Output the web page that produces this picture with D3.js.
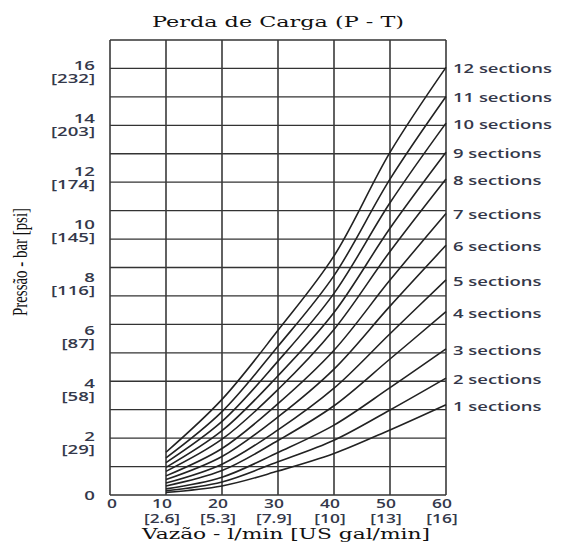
<!DOCTYPE html>
<html>
<head>
<meta charset="utf-8">
<script src="https://cdn.jsdelivr.net/npm/d3@7"></script>
<style>
  body { margin: 0; background: #fff; }
</style>
</head>
<body>
<svg id="chart" width="561" height="543"></svg>
<script>
// flow points (l/min) where each curve was read
var flows = [10, 20, 30, 40, 50, 60];

var xTicks = [0, 10, 20, 30, 40, 50, 60];
var xTickGal = ["", "[2.6]", "[5.3]", "[7.9]", "[10]", "[13]", "[16]"];
var yTicks = [0, 2, 4, 6, 8, 10, 12, 14, 16];
var yTickPsi = ["", "[29]", "[58]", "[87]", "[116]", "[145]", "[174]", "[203]", "[232]"];

// pressure drop (bar) per number of sections
var sec1  = [0.10, 0.34, 0.90, 1.56, 2.45, 3.40];
var sec2  = [0.16, 0.49, 1.25, 2.06, 3.20, 4.40];
var sec3  = [0.23, 0.67, 1.60, 2.63, 4.04, 5.50];
var sec4  = [0.34, 0.92, 2.05, 3.36, 5.12, 6.90];
var sec5  = [0.45, 1.16, 2.45, 4.02, 6.07, 8.10];
var sec6  = [0.58, 1.45, 2.94, 4.74, 7.11, 9.40];
var sec7  = [0.72, 1.75, 3.44, 5.45, 8.09, 10.60];
var sec8  = [0.89, 2.10, 3.97, 6.23, 9.17, 11.90];
var sec9  = [1.04, 2.42, 4.49, 6.87, 10.04, 12.90];
var sec10 = [1.22, 2.77, 5.04, 7.59, 11.00, 14.00];
var sec11 = [1.40, 3.14, 5.60, 8.26, 11.89, 15.00];
var sec12 = [1.61, 3.60, 6.20, 9.00, 12.90, 16.10];

var sectionNames = ["1 sections", "2 sections", "3 sections", "4 sections", "5 sections", "6 sections",
  "7 sections", "8 sections", "9 sections", "10 sections", "11 sections", "12 sections"];

var series = [sec1, sec2, sec3, sec4, sec5, sec6, sec7, sec8, sec9, sec10, sec11, sec12]
  .map((vals, i) => ({ name: sectionNames[i], points: vals.map((v, j) => [flows[j], v]) }));

var plotL = 110, plotR = 446, plotT = 40, plotB = 495;
var ink = "#34384a";

var svg = d3.select("#chart");

var x = d3.scaleLinear().domain([0, 60]).range([plotL, plotR]);
var y = d3.scaleLinear().domain([0, 16]).range([plotB, 70]);
// the printed grid has 16 even rows between the frame edges
var gridY = d3.scaleLinear().domain([0, 16]).range([plotB, plotT]);

// grid
svg.append("g")
  .selectAll("line")
  .data(d3.range(0, 17))
  .enter()
  .append("line")
  .attr("x1", plotL).attr("x2", plotR)
  .attr("y1", (d) => gridY(d)).attr("y2", (d) => gridY(d))
  .attr("stroke", "#333")
  .attr("stroke-width", 1.3);

svg.append("g")
  .selectAll("line")
  .data(xTicks)
  .enter()
  .append("line")
  .attr("x1", (d) => x(d)).attr("x2", (d) => x(d))
  .attr("y1", plotT).attr("y2", plotB)
  .attr("stroke", "#3a3a3a")
  .attr("stroke-width", 1.6);

// curves
var line = d3.line()
  .x((d) => x(d[0]))
  .y((d) => y(d[1]))
  .curve(d3.curveCatmullRom.alpha(0.5));

svg.append("g")
  .selectAll("path")
  .data(series)
  .enter()
  .append("path")
  .attr("d", (d) => line(d.points))
  .attr("fill", "none")
  .attr("stroke", "#222")
  .attr("stroke-width", 1.6);

// right labels
svg.append("g")
  .selectAll("text")
  .data(series)
  .enter()
  .append("text")
  .attr("transform", (d) => "translate(453," + (y(d.points[d.points.length - 1][1]) + 1) + ") scale(1.42,1)")
  .attr("dominant-baseline", "central")
  .style("font-family", "'Open Sans', sans-serif")
  .style("font-size", "13px")
  .style("font-weight", "600")
  .style("fill", ink)
  .text((d) => d.name);

// y tick labels
var yLab = svg.append("g")
  .selectAll("g")
  .data(yTicks)
  .enter()
  .append("g")
  .attr("transform", (d) => "translate(95," + y(d) + ") scale(1.55,1)")
  .style("font-family", "'Open Sans', sans-serif")
  .style("font-size", "12px")
  .style("font-weight", "600")
  .style("fill", ink)
  .attr("text-anchor", "end");

yLab.append("text")
  .attr("y", (d) => d === 0 ? 0 : -5)
  .attr("dominant-baseline", "central")
  .text((d) => d);

yLab.append("text")
  .attr("y", 8)
  .attr("dominant-baseline", "central")
  .text((d, i) => yTickPsi[i]);

// x tick labels
var xLab = svg.append("g")
  .selectAll("g")
  .data(xTicks)
  .enter()
  .append("g")
  .attr("transform", (d) => "translate(" + (x(d) + (d === 0 ? 2 : -4)) + ",0) scale(1.45,1)")
  .style("font-family", "'Open Sans', sans-serif")
  .style("font-size", "12px")
  .style("font-weight", "600")
  .style("fill", ink)
  .attr("text-anchor", "middle");

xLab.append("text")
  .attr("y", 503)
  .attr("dominant-baseline", "central")
  .text((d) => d);

xLab.append("text")
  .attr("y", 518)
  .attr("dominant-baseline", "central")
  .text((d, i) => xTickGal[i]);

// titles
svg.append("text")
  .attr("x", 278).attr("y", 22)
  .attr("text-anchor", "middle")
  .attr("dominant-baseline", "central")
  .attr("textLength", 252)
  .attr("lengthAdjust", "spacingAndGlyphs")
  .style("font-family", "'DejaVu Serif', serif")
  .style("font-size", "15px")
  .style("fill", "#111")
  .text("Perda de Carga (P - T)");

svg.append("text")
  .attr("x", 286).attr("y", 534)
  .attr("text-anchor", "middle")
  .attr("dominant-baseline", "central")
  .attr("textLength", 288)
  .attr("lengthAdjust", "spacingAndGlyphs")
  .style("font-family", "'DejaVu Serif', serif")
  .style("font-size", "15px")
  .style("fill", "#111")
  .text("Vazão - l/min [US gal/min]");

svg.append("text")
  .attr("transform", "translate(20,262) rotate(-90)")
  .attr("text-anchor", "middle")
  .attr("dominant-baseline", "central")
  .attr("textLength", 108)
  .attr("lengthAdjust", "spacingAndGlyphs")
  .style("font-family", "'Liberation Serif', serif")
  .style("font-size", "20px")
  .style("fill", "#111")
  .text("Pressão - bar [psi]");
</script>
</body>
</html>
